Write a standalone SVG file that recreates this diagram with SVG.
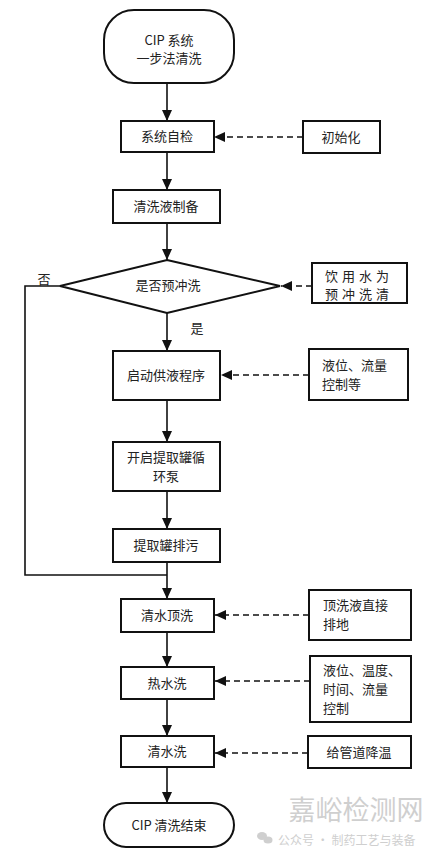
<svg xmlns="http://www.w3.org/2000/svg" width="438" height="856" viewBox="0 0 438 856">
<style>
.bx{fill:#fff;stroke:#111;stroke-width:2}
.t{font-family:"Noto Sans CJK SC","Liberation Sans",sans-serif;font-size:13px;fill:#222;text-anchor:middle}
.tl{font-family:"Noto Sans CJK SC","Liberation Sans",sans-serif;font-size:13px;fill:#222}
.ln{fill:none;stroke:#111;stroke-width:1.6}
.ds{fill:none;stroke:#111;stroke-width:1.6;stroke-dasharray:6,4}
.wm{font-family:"Noto Sans CJK SC",sans-serif;fill:#cfcfcf}
</style>
<defs>
<marker id="ah" markerUnits="userSpaceOnUse" markerWidth="12" markerHeight="10" refX="11" refY="5" orient="auto">
<path d="M0,0 L11,5 L0,10 Z" fill="#111"/>
</marker>
</defs>
<rect width="438" height="856" fill="#fff"/>
<g id="connectors">
<path class="ln" d="M167,83 V121" marker-end="url(#ah)"/>
<path class="ln" d="M167,152 V190" marker-end="url(#ah)"/>
<path class="ln" d="M167,223 V260" marker-end="url(#ah)"/>
<path class="ln" d="M167,313 V351" marker-end="url(#ah)"/>
<path class="ln" d="M167,400 V442" marker-end="url(#ah)"/>
<path class="ln" d="M167,491 V529" marker-end="url(#ah)"/>
<path class="ln" d="M167,562 V599" marker-end="url(#ah)"/>
<path class="ln" d="M60,286 H25 V575 H167"/>
<path class="ln" d="M167,632 V667" marker-end="url(#ah)"/>
<path class="ln" d="M167,699 V736" marker-end="url(#ah)"/>
<path class="ln" d="M167,767 V803" marker-end="url(#ah)"/>
<path class="ds" d="M303,137 H214" marker-end="url(#ah)"/>
<path class="ds" d="M312,286 H281" marker-end="url(#ah)"/>
<path class="ds" d="M309,375 H221" marker-end="url(#ah)"/>
<path class="ds" d="M309,615 H215" marker-end="url(#ah)"/>
<path class="ds" d="M310,681 H215" marker-end="url(#ah)"/>
<path class="ds" d="M308,753 H215" marker-end="url(#ah)"/>
<text class="t" x="44" y="284">否</text>
<text class="t" x="197" y="333">是</text>
</g>
<g id="start">
<rect class="bx" x="104" y="10" width="130" height="73" rx="30"/>
<text class="t" x="169" y="45">CIP 系统</text>
<text class="t" x="169" y="63">一步法清洗</text>
</g>
<g id="selfcheck">
<rect class="bx" x="121" y="121" width="93" height="31"/>
<text class="t" x="167" y="141">系统自检</text>
</g>
<g id="init">
<rect class="bx" x="303" y="121" width="77" height="32"/>
<text class="t" x="341" y="142">初始化</text>
</g>
<g id="prep">
<rect class="bx" x="113" y="190" width="107" height="33"/>
<text class="t" x="166" y="211">清洗液制备</text>
</g>
<g id="decision">
<path class="bx" d="M167,260 L280,286 L167,313 L60,286 Z"/>
<text class="t" x="168" y="290">是否预冲洗</text>
</g>
<g id="water">
<rect class="bx" x="312" y="263" width="95" height="40"/>
<text class="t" x="359" y="281" letter-spacing="4">饮用水为</text>
<text class="t" x="359" y="299" letter-spacing="4">预冲洗清</text>
</g>
<g id="supply">
<rect class="bx" x="113" y="351" width="107" height="49"/>
<text class="t" x="166" y="380">启动供液程序</text>
</g>
<g id="level1">
<rect class="bx" x="309" y="349" width="99" height="51"/>
<text class="tl" x="322" y="370">液位、流量</text>
<text class="tl" x="322" y="389">控制等</text>
</g>
<g id="pump">
<rect class="bx" x="113" y="442" width="107" height="49"/>
<text class="t" x="166" y="462">开启提取罐循</text>
<text class="t" x="166" y="481">环泵</text>
</g>
<g id="drain">
<rect class="bx" x="113" y="529" width="107" height="33"/>
<text class="t" x="166" y="550">提取罐排污</text>
</g>
<g id="topwash">
<rect class="bx" x="121" y="599" width="93" height="33"/>
<text class="t" x="167" y="620">清水顶洗</text>
</g>
<g id="topnote">
<rect class="bx" x="309" y="590" width="102" height="50"/>
<text class="tl" x="323" y="610">顶洗液直接</text>
<text class="tl" x="323" y="629">排地</text>
</g>
<g id="hot">
<rect class="bx" x="121" y="667" width="93" height="32"/>
<text class="t" x="167" y="688">热水洗</text>
</g>
<g id="hotnote">
<rect class="bx" x="310" y="656" width="101" height="66"/>
<text class="tl" x="323" y="675">液位、温度、</text>
<text class="tl" x="323" y="694">时间、流量</text>
<text class="tl" x="323" y="713">控制</text>
</g>
<g id="clean">
<rect class="bx" x="121" y="736" width="93" height="31"/>
<text class="t" x="167" y="756">清水洗</text>
</g>
<g id="cool">
<rect class="bx" x="308" y="736" width="103" height="32"/>
<text class="t" x="359" y="757">给管道降温</text>
</g>
<g id="end">
<rect class="bx" x="104" y="803" width="130" height="44" rx="22"/>
<text class="t" x="169" y="830">CIP 清洗结束</text>
</g>
<g id="watermark">
<text class="wm" x="356" y="820" font-size="27" text-anchor="middle">嘉峪检测网</text>
<ellipse cx="262" cy="836" rx="5" ry="4" fill="#cfcfcf"/>
<ellipse cx="268" cy="840" rx="4.5" ry="3.5" fill="#cfcfcf"/>
<text class="wm" x="278" y="845" font-size="12">公众号 · 制药工艺与装备</text>
</g>
</svg>
